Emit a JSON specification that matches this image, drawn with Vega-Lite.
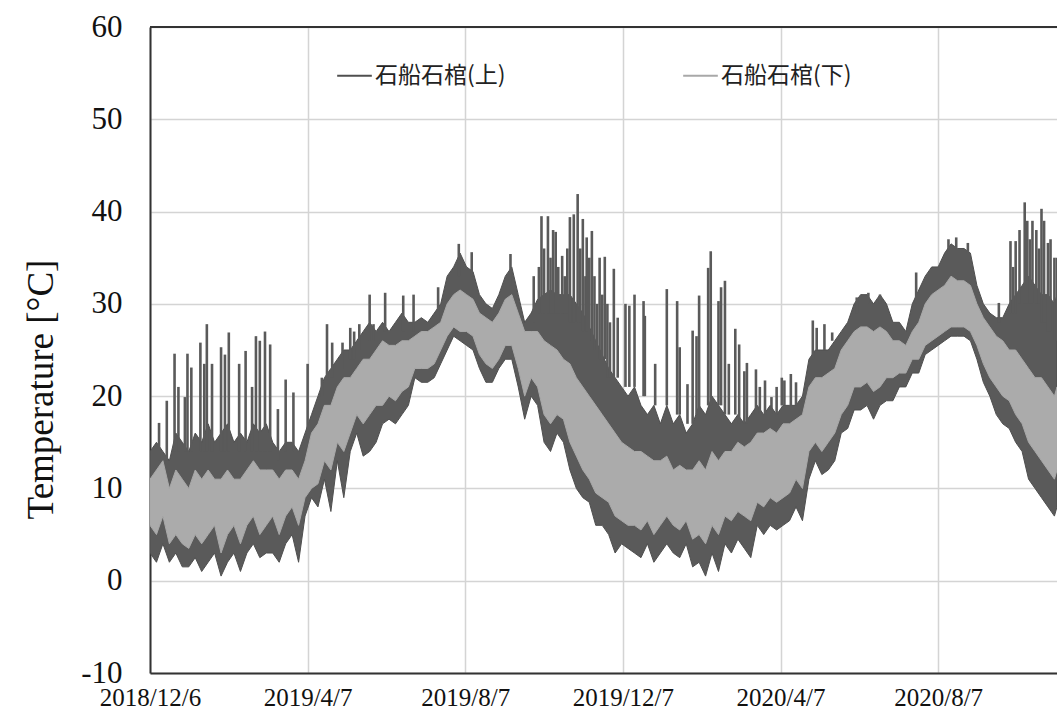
{
"$schema": "https://vega.github.io/schema/vega-lite/v6.json",
"width": 907, "height": 646,
"autosize": {"type": "none"},
"padding": {"left": 150, "top": 27, "right": 0, "bottom": 42},
"background": "white",
"datasets": {
"band": [
{"d":"2018-12-06","al":3,"ah":14,"bl":6,"bh":11},
{"d":"2018-12-11","al":2,"ah":15,"bl":5,"bh":12},
{"d":"2018-12-16","al":4,"ah":14,"bl":7,"bh":13},
{"d":"2018-12-21","al":2,"ah":13,"bl":4,"bh":10},
{"d":"2018-12-26","al":3,"ah":16,"bl":5,"bh":12},
{"d":"2018-12-31","al":1.5,"ah":15,"bl":4,"bh":11},
{"d":"2019-01-05","al":1.5,"ah":14,"bl":3.5,"bh":10},
{"d":"2019-01-10","al":2.5,"ah":16,"bl":5,"bh":12},
{"d":"2019-01-15","al":1,"ah":15,"bl":4,"bh":11},
{"d":"2019-01-20","al":2,"ah":17,"bl":5,"bh":12},
{"d":"2019-01-25","al":3,"ah":15,"bl":6,"bh":11},
{"d":"2019-01-30","al":0.5,"ah":16,"bl":3,"bh":11},
{"d":"2019-02-04","al":2,"ah":17,"bl":5,"bh":12},
{"d":"2019-02-09","al":3,"ah":15,"bl":6,"bh":11},
{"d":"2019-02-14","al":1,"ah":16,"bl":4,"bh":11},
{"d":"2019-02-19","al":3,"ah":15,"bl":6,"bh":12},
{"d":"2019-02-24","al":4,"ah":17,"bl":7,"bh":13},
{"d":"2019-03-01","al":2.5,"ah":16,"bl":5,"bh":12},
{"d":"2019-03-06","al":3,"ah":17,"bl":6,"bh":12},
{"d":"2019-03-11","al":3,"ah":15,"bl":7,"bh":12},
{"d":"2019-03-16","al":2,"ah":14,"bl":5,"bh":11},
{"d":"2019-03-21","al":4,"ah":15,"bl":7,"bh":12},
{"d":"2019-03-26","al":5,"ah":15,"bl":8,"bh":12},
{"d":"2019-03-31","al":2,"ah":14,"bl":6,"bh":11},
{"d":"2019-04-05","al":7,"ah":16,"bl":9,"bh":13},
{"d":"2019-04-10","al":9,"ah":18,"bl":10,"bh":16},
{"d":"2019-04-15","al":8,"ah":20,"bl":10.5,"bh":17},
{"d":"2019-04-20","al":11,"ah":22,"bl":13,"bh":19},
{"d":"2019-04-25","al":7.5,"ah":23,"bl":12,"bh":19},
{"d":"2019-04-30","al":13,"ah":24,"bl":15,"bh":21},
{"d":"2019-05-05","al":9,"ah":25,"bl":14,"bh":22},
{"d":"2019-05-10","al":14,"ah":25,"bl":16,"bh":22},
{"d":"2019-05-15","al":16,"ah":26,"bl":18,"bh":23},
{"d":"2019-05-20","al":13.5,"ah":27,"bl":17,"bh":24},
{"d":"2019-05-25","al":14,"ah":28,"bl":18,"bh":24},
{"d":"2019-05-30","al":15,"ah":27,"bl":19,"bh":25},
{"d":"2019-06-04","al":17,"ah":28,"bl":19,"bh":26},
{"d":"2019-06-09","al":17.5,"ah":27,"bl":20,"bh":25.5},
{"d":"2019-06-14","al":17,"ah":28,"bl":19.5,"bh":25.5},
{"d":"2019-06-19","al":18,"ah":29,"bl":20.5,"bh":26},
{"d":"2019-06-24","al":19,"ah":28,"bl":21,"bh":26},
{"d":"2019-06-29","al":22,"ah":28,"bl":23,"bh":26.5},
{"d":"2019-07-04","al":21.5,"ah":28.5,"bl":23,"bh":27},
{"d":"2019-07-09","al":21.5,"ah":28,"bl":23,"bh":27},
{"d":"2019-07-14","al":22,"ah":29,"bl":23.5,"bh":27.5},
{"d":"2019-07-19","al":23.5,"ah":30,"bl":25,"bh":28},
{"d":"2019-07-24","al":25,"ah":33,"bl":26.5,"bh":30},
{"d":"2019-07-29","al":26.5,"ah":34,"bl":27.5,"bh":31},
{"d":"2019-08-03","al":26,"ah":35.5,"bl":27,"bh":31.5},
{"d":"2019-08-08","al":25.5,"ah":34,"bl":27,"bh":31},
{"d":"2019-08-13","al":25,"ah":33.5,"bl":26.5,"bh":30.5},
{"d":"2019-08-18","al":23,"ah":31,"bl":24.5,"bh":29},
{"d":"2019-08-23","al":21.5,"ah":30,"bl":23.5,"bh":28.5},
{"d":"2019-08-28","al":21.5,"ah":29.5,"bl":23,"bh":28},
{"d":"2019-09-02","al":23,"ah":31,"bl":24,"bh":29},
{"d":"2019-09-07","al":24,"ah":33,"bl":25.5,"bh":30.5},
{"d":"2019-09-12","al":24,"ah":34,"bl":25.5,"bh":31},
{"d":"2019-09-17","al":21,"ah":31,"bl":23,"bh":29},
{"d":"2019-09-22","al":17.5,"ah":28,"bl":20,"bh":27},
{"d":"2019-09-27","al":20,"ah":29,"bl":22,"bh":27},
{"d":"2019-10-02","al":19,"ah":30.5,"bl":21,"bh":27},
{"d":"2019-10-07","al":15,"ah":31,"bl":18,"bh":26},
{"d":"2019-10-12","al":14,"ah":31.5,"bl":17,"bh":25.5},
{"d":"2019-10-17","al":16,"ah":31,"bl":18,"bh":25},
{"d":"2019-10-22","al":15,"ah":31,"bl":17.5,"bh":24},
{"d":"2019-10-27","al":12,"ah":31,"bl":15,"bh":23.5},
{"d":"2019-11-01","al":10,"ah":30,"bl":13.5,"bh":22},
{"d":"2019-11-06","al":9,"ah":29,"bl":12,"bh":21},
{"d":"2019-11-11","al":8.5,"ah":27.5,"bl":11,"bh":20},
{"d":"2019-11-16","al":6,"ah":26,"bl":9.5,"bh":19},
{"d":"2019-11-21","al":6,"ah":24.5,"bl":9,"bh":18},
{"d":"2019-11-26","al":5,"ah":23,"bl":8.5,"bh":17},
{"d":"2019-12-01","al":3,"ah":22,"bl":7,"bh":16},
{"d":"2019-12-06","al":4,"ah":21,"bl":6.5,"bh":15},
{"d":"2019-12-11","al":3.5,"ah":20,"bl":6,"bh":14.5},
{"d":"2019-12-16","al":3,"ah":21,"bl":6,"bh":14},
{"d":"2019-12-21","al":2.5,"ah":19,"bl":5.5,"bh":14},
{"d":"2019-12-26","al":4,"ah":18,"bl":6.5,"bh":13.5},
{"d":"2019-12-31","al":2,"ah":19,"bl":5,"bh":13},
{"d":"2020-01-05","al":3,"ah":17,"bl":6,"bh":13},
{"d":"2020-01-10","al":4,"ah":19,"bl":7,"bh":13.5},
{"d":"2020-01-15","al":3,"ah":17,"bl":6,"bh":12},
{"d":"2020-01-20","al":2.5,"ah":18,"bl":5.5,"bh":12.5},
{"d":"2020-01-25","al":4,"ah":16,"bl":6.5,"bh":12},
{"d":"2020-01-30","al":1.5,"ah":17,"bl":4.5,"bh":12},
{"d":"2020-02-04","al":2,"ah":19,"bl":5,"bh":13},
{"d":"2020-02-09","al":0.5,"ah":18,"bl":4,"bh":12},
{"d":"2020-02-14","al":3,"ah":20,"bl":6,"bh":14},
{"d":"2020-02-19","al":1,"ah":19,"bl":5,"bh":13},
{"d":"2020-02-24","al":4,"ah":18,"bl":7,"bh":14},
{"d":"2020-02-29","al":3,"ah":17,"bl":6.5,"bh":14},
{"d":"2020-03-05","al":4.5,"ah":18,"bl":7.5,"bh":15},
{"d":"2020-03-10","al":3.5,"ah":17,"bl":7,"bh":14.5},
{"d":"2020-03-15","al":2.5,"ah":18,"bl":6.5,"bh":15},
{"d":"2020-03-20","al":6,"ah":19,"bl":8.5,"bh":16},
{"d":"2020-03-25","al":5,"ah":18,"bl":8,"bh":16},
{"d":"2020-03-30","al":6,"ah":19,"bl":9,"bh":16.5},
{"d":"2020-04-04","al":5.5,"ah":18,"bl":8.5,"bh":16},
{"d":"2020-04-09","al":6,"ah":19,"bl":9,"bh":17},
{"d":"2020-04-14","al":6.5,"ah":19,"bl":9.5,"bh":17},
{"d":"2020-04-19","al":8,"ah":19,"bl":11,"bh":17.5},
{"d":"2020-04-24","al":6.5,"ah":20,"bl":10,"bh":18},
{"d":"2020-04-29","al":11,"ah":24,"bl":14,"bh":21},
{"d":"2020-05-04","al":13,"ah":25,"bl":15,"bh":22},
{"d":"2020-05-09","al":11.5,"ah":25,"bl":14,"bh":22},
{"d":"2020-05-14","al":12,"ah":25,"bl":15,"bh":22.5},
{"d":"2020-05-19","al":13,"ah":26,"bl":16,"bh":23},
{"d":"2020-05-24","al":16,"ah":27,"bl":18,"bh":25},
{"d":"2020-05-29","al":16.5,"ah":28,"bl":19,"bh":26},
{"d":"2020-06-03","al":18.5,"ah":30,"bl":21,"bh":27},
{"d":"2020-06-08","al":18.5,"ah":31,"bl":21,"bh":27.5},
{"d":"2020-06-13","al":19,"ah":31,"bl":21.5,"bh":27.5},
{"d":"2020-06-18","al":17.5,"ah":30,"bl":20.5,"bh":27},
{"d":"2020-06-23","al":19,"ah":31,"bl":21,"bh":27.5},
{"d":"2020-06-28","al":19.5,"ah":30,"bl":22,"bh":27},
{"d":"2020-07-03","al":19.5,"ah":28,"bl":22,"bh":26},
{"d":"2020-07-08","al":21,"ah":28,"bl":22.5,"bh":26},
{"d":"2020-07-13","al":21,"ah":27,"bl":22.5,"bh":25.5},
{"d":"2020-07-18","al":22.5,"ah":30,"bl":24,"bh":27},
{"d":"2020-07-23","al":22.5,"ah":31.5,"bl":24,"bh":28},
{"d":"2020-07-28","al":24.5,"ah":33,"bl":25.5,"bh":30},
{"d":"2020-08-02","al":25,"ah":34,"bl":26,"bh":31},
{"d":"2020-08-07","al":25.5,"ah":34,"bl":26.5,"bh":31.5},
{"d":"2020-08-12","al":26,"ah":35.5,"bl":27,"bh":32},
{"d":"2020-08-17","al":26.5,"ah":36.5,"bl":27.5,"bh":33},
{"d":"2020-08-22","al":26.5,"ah":36,"bl":27.5,"bh":32.5},
{"d":"2020-08-27","al":26.5,"ah":36,"bl":27.5,"bh":32.5},
{"d":"2020-09-01","al":26,"ah":35.5,"bl":27,"bh":32},
{"d":"2020-09-06","al":24,"ah":32,"bl":25.5,"bh":30},
{"d":"2020-09-11","al":21.5,"ah":30,"bl":23.5,"bh":28.5},
{"d":"2020-09-16","al":20,"ah":29,"bl":22,"bh":27.5},
{"d":"2020-09-21","al":18,"ah":28.5,"bl":21,"bh":26.5},
{"d":"2020-09-26","al":17,"ah":28.5,"bl":20,"bh":26},
{"d":"2020-10-01","al":16.5,"ah":30,"bl":19.5,"bh":25},
{"d":"2020-10-06","al":15,"ah":31,"bl":18,"bh":25},
{"d":"2020-10-11","al":14,"ah":32,"bl":17,"bh":24},
{"d":"2020-10-16","al":11,"ah":33,"bl":15,"bh":23},
{"d":"2020-10-21","al":10,"ah":32,"bl":14,"bh":22},
{"d":"2020-10-26","al":9,"ah":31,"bl":13,"bh":22},
{"d":"2020-10-31","al":8,"ah":31,"bl":12,"bh":21},
{"d":"2020-11-05","al":7,"ah":30,"bl":11,"bh":20},
{"d":"2020-11-07","al":8,"ah":31,"bl":12,"bh":21}
],
"spikes": [
{"d":"2018-12-13","lo":13,"hi":17.1},
{"d":"2018-12-19","lo":13,"hi":19.5},
{"d":"2018-12-25","lo":14,"hi":24.6},
{"d":"2018-12-28","lo":14,"hi":21},
{"d":"2019-01-02","lo":14,"hi":19.9},
{"d":"2019-01-04","lo":14,"hi":24.6},
{"d":"2019-01-07","lo":14,"hi":23.1},
{"d":"2019-01-14","lo":14,"hi":25.8},
{"d":"2019-01-17","lo":14,"hi":23.5},
{"d":"2019-01-19","lo":14,"hi":27.8},
{"d":"2019-01-23","lo":14,"hi":23.5},
{"d":"2019-01-30","lo":14,"hi":25.3},
{"d":"2019-02-02","lo":14,"hi":24.5},
{"d":"2019-02-05","lo":14,"hi":26.9},
{"d":"2019-02-13","lo":14,"hi":23.5},
{"d":"2019-02-18","lo":14,"hi":24.9},
{"d":"2019-02-23","lo":14,"hi":21},
{"d":"2019-02-26","lo":14,"hi":26.5},
{"d":"2019-03-01","lo":14,"hi":26},
{"d":"2019-03-05","lo":14,"hi":27},
{"d":"2019-03-09","lo":14,"hi":25.6},
{"d":"2019-03-15","lo":13,"hi":18.6},
{"d":"2019-03-21","lo":14,"hi":21.8},
{"d":"2019-03-27","lo":14,"hi":20.4},
{"d":"2019-04-07","lo":15,"hi":23.5},
{"d":"2019-04-18","lo":20,"hi":22},
{"d":"2019-04-22","lo":22,"hi":27.8},
{"d":"2019-04-26","lo":22,"hi":25.8},
{"d":"2019-05-04","lo":23,"hi":25.8},
{"d":"2019-05-10","lo":24,"hi":27.4},
{"d":"2019-05-13","lo":24,"hi":27},
{"d":"2019-05-17","lo":25,"hi":27.8},
{"d":"2019-05-25","lo":26,"hi":31},
{"d":"2019-05-28","lo":26,"hi":27.8},
{"d":"2019-06-06","lo":27,"hi":31.2},
{"d":"2019-06-20","lo":27,"hi":30.9},
{"d":"2019-06-28","lo":27,"hi":31},
{"d":"2019-07-17","lo":28,"hi":31.8},
{"d":"2019-08-02","lo":33,"hi":36.5},
{"d":"2019-08-12","lo":33,"hi":35.6},
{"d":"2019-09-11","lo":32,"hi":35.4},
{"d":"2019-09-29","lo":28,"hi":33},
{"d":"2019-10-03","lo":29,"hi":34},
{"d":"2019-10-05","lo":29,"hi":39.5},
{"d":"2019-10-07","lo":29,"hi":36},
{"d":"2019-10-10","lo":29,"hi":39.5},
{"d":"2019-10-12","lo":29,"hi":35},
{"d":"2019-10-14","lo":29,"hi":38},
{"d":"2019-10-16","lo":29,"hi":37.8},
{"d":"2019-10-18","lo":29,"hi":34},
{"d":"2019-10-21","lo":29,"hi":35.2},
{"d":"2019-10-23","lo":29,"hi":33},
{"d":"2019-10-25","lo":29,"hi":36},
{"d":"2019-10-27","lo":28,"hi":39.4},
{"d":"2019-10-30","lo":28,"hi":39.7},
{"d":"2019-11-02","lo":28,"hi":41.9},
{"d":"2019-11-04","lo":28,"hi":36},
{"d":"2019-11-06","lo":27,"hi":39.2},
{"d":"2019-11-08","lo":27,"hi":33},
{"d":"2019-11-09","lo":27,"hi":37.2},
{"d":"2019-11-11","lo":26,"hi":35},
{"d":"2019-11-13","lo":26,"hi":37.9},
{"d":"2019-11-15","lo":25,"hi":33},
{"d":"2019-11-17","lo":25,"hi":30},
{"d":"2019-11-19","lo":24,"hi":35},
{"d":"2019-11-21","lo":24,"hi":31},
{"d":"2019-11-23","lo":24,"hi":35.1},
{"d":"2019-11-25","lo":22,"hi":30},
{"d":"2019-11-27","lo":22,"hi":28},
{"d":"2019-11-30","lo":22,"hi":33.8},
{"d":"2019-12-03","lo":22,"hi":28.5},
{"d":"2019-12-09","lo":21,"hi":30},
{"d":"2019-12-12","lo":21,"hi":29.8},
{"d":"2019-12-16","lo":21,"hi":31},
{"d":"2019-12-23","lo":20,"hi":30.3},
{"d":"2019-12-24","lo":20,"hi":28.7},
{"d":"2020-01-01","lo":19,"hi":23.5},
{"d":"2020-01-10","lo":19,"hi":31.6},
{"d":"2020-01-18","lo":18,"hi":30.3},
{"d":"2020-01-20","lo":18,"hi":25.3},
{"d":"2020-01-26","lo":17,"hi":21.3},
{"d":"2020-01-30","lo":17,"hi":27.1},
{"d":"2020-02-02","lo":18,"hi":26.5},
{"d":"2020-02-04","lo":18,"hi":30.9},
{"d":"2020-02-11","lo":19,"hi":33.9},
{"d":"2020-02-13","lo":19,"hi":35.7},
{"d":"2020-02-19","lo":19,"hi":30.3},
{"d":"2020-02-21","lo":19,"hi":31.8},
{"d":"2020-02-24","lo":18,"hi":32.5},
{"d":"2020-02-27","lo":18,"hi":23.5},
{"d":"2020-03-03","lo":18,"hi":27.3},
{"d":"2020-03-06","lo":17,"hi":25.6},
{"d":"2020-03-10","lo":17,"hi":22.7},
{"d":"2020-03-12","lo":17,"hi":23.6},
{"d":"2020-03-19","lo":18,"hi":22.9},
{"d":"2020-03-22","lo":18,"hi":21},
{"d":"2020-03-26","lo":18,"hi":21.7},
{"d":"2020-03-31","lo":18,"hi":19.9},
{"d":"2020-04-04","lo":18,"hi":21},
{"d":"2020-04-08","lo":19,"hi":22},
{"d":"2020-04-10","lo":19,"hi":21.7},
{"d":"2020-04-15","lo":19,"hi":22.4},
{"d":"2020-04-19","lo":19,"hi":21.5},
{"d":"2020-05-02","lo":24,"hi":28.2},
{"d":"2020-05-05","lo":25,"hi":27.4},
{"d":"2020-05-11","lo":25,"hi":27.8},
{"d":"2020-05-17","lo":26,"hi":26.9},
{"d":"2020-06-05","lo":29,"hi":30.7},
{"d":"2020-06-14","lo":30,"hi":31.2},
{"d":"2020-06-23","lo":30,"hi":31},
{"d":"2020-07-21","lo":30,"hi":33.4},
{"d":"2020-08-15","lo":35.5,"hi":37},
{"d":"2020-08-21","lo":36,"hi":37.2},
{"d":"2020-08-30","lo":35.5,"hi":36.6},
{"d":"2020-09-23","lo":28,"hi":30.1},
{"d":"2020-10-02","lo":29,"hi":36.8},
{"d":"2020-10-04","lo":29,"hi":34},
{"d":"2020-10-06","lo":29,"hi":36.8},
{"d":"2020-10-09","lo":30,"hi":38},
{"d":"2020-10-13","lo":30,"hi":41},
{"d":"2020-10-15","lo":30,"hi":39},
{"d":"2020-10-17","lo":30,"hi":37},
{"d":"2020-10-19","lo":30,"hi":39},
{"d":"2020-10-22","lo":30,"hi":38},
{"d":"2020-10-24","lo":30,"hi":36},
{"d":"2020-10-26","lo":28,"hi":40.3},
{"d":"2020-10-28","lo":28,"hi":39},
{"d":"2020-10-31","lo":27,"hi":36.6},
{"d":"2020-11-02","lo":27,"hi":37},
{"d":"2020-11-05","lo":26,"hi":35},
{"d":"2020-11-07","lo":26,"hi":35}
],
"frame": [{"k": 1}]
},
"layer": [
{
"data": {"name": "band"},
"mark": {"type": "area", "clip": true, "fill": "#5a5a5a", "strokeWidth": 1},
"encoding": {
"x": {"field": "d", "type": "temporal", "title": null,
"scale": {"type": "utc", "domain": [{"year": 2018, "month": 12, "date": 6, "utc": true}, {"year": 2020, "month": 11, "date": 7, "utc": true}]},
"axis": {"values": [{"year": 2018, "month": 12, "date": 6, "utc": true}, {"year": 2019, "month": 4, "date": 7, "utc": true}, {"year": 2019, "month": 8, "date": 7, "utc": true}, {"year": 2019, "month": 12, "date": 7, "utc": true}, {"year": 2020, "month": 4, "date": 7, "utc": true}, {"year": 2020, "month": 8, "date": 7, "utc": true}],
"labelExpr": "utcFormat(datum.value, '%Y/%-m/%-d')", "labelFontSize": 25, "labelPadding": 12, "labelFlush": false, "labelOverlap": false}},
"y": {"field": "al", "type": "quantitative", "title": "Temperature [°C]",
"scale": {"domain": [-10, 60], "nice": false, "zero": false},
"axis": {"values": [-10, 0, 10, 20, 30, 40, 50, 60], "labelExpr": "'' + datum.value", "labelFontSize": 31, "labelPadding": 28, "titleFontSize": 37, "titlePadding": 20, "titleY": 362}},
"y2": {"field": "ah"},
"stroke": {"datum": "石船石棺(上)", "type": "nominal",
"scale": {"domain": ["石船石棺(上)", "石船石棺(下)"], "range": ["#4f4f4f", "#a8a8a8"]},
"legend": {"title": null, "orient": "none", "direction": "horizontal", "legendX": 186, "legendY": 30,
"symbolType": "stroke", "symbolSize": 1200, "symbolStrokeWidth": 2, "labelFont": "Noto Sans CJK JP", "labelFontSize": 23, "labelColor": "#222222", "labelOffset": 2, "columnPadding": 173, "padding": 0, "labelLimit": 400}}
}
},
{
"data": {"name": "spikes"},
"mark": {"type": "rule", "clip": true, "color": "#5a5a5a", "strokeWidth": 2.6},
"encoding": {
"x": {"field": "d", "type": "temporal", "title": null},
"y": {"field": "lo", "type": "quantitative", "title": "Temperature [°C]"},
"y2": {"field": "hi"}
}
},
{
"data": {"name": "band"},
"mark": {"type": "area", "clip": true, "fill": "#ababab", "strokeWidth": 1},
"encoding": {
"x": {"field": "d", "type": "temporal", "title": null},
"y": {"field": "bl", "type": "quantitative", "title": "Temperature [°C]"},
"y2": {"field": "bh"},
"stroke": {"datum": "石船石棺(下)", "type": "nominal"}
}
},
{
"data": {"name": "frame"},
"mark": {"type": "rule", "color": "#333333", "strokeWidth": 2},
"encoding": {"y": {"datum": 60, "type": "quantitative"}}
}
],
"config": {
"view": {"stroke": null},
"axis": {
"domainColor": "#333333", "domainWidth": 2, "ticks": false,
"gridColor": "#d4d4d4", "gridWidth": 1.5, "grid": true,
"labelFont": "Liberation Serif", "labelColor": "#111111",
"titleFont": "Liberation Serif", "titleColor": "#111111", "titleFontWeight": "normal"
}
}
}
